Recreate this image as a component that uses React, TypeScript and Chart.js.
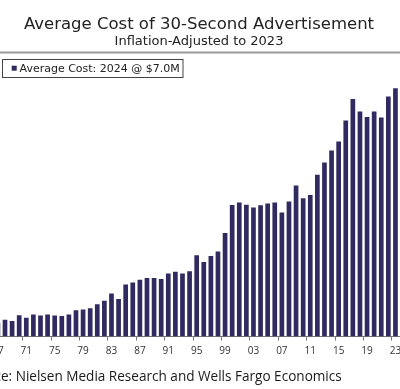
import React, { useEffect, useRef } from "react";
import { Chart, registerables } from "chart.js";

Chart.register(...registerables);

const TITLE = "Average Cost of 30-Second Advertisement";
const SUBTITLE = "Inflation-Adjusted to 2023";
const SERIES_LABEL = "Average Cost: 2024 @ $7.0M";
const SOURCE_HIDDEN = "Sourc";
const SOURCE_VISIBLE = "e: Nielsen Media Research and Wells Fargo Economics";

const seasonLabels = [
  "67", "68", "69", "70", "71", "72", "73", "74", "75", "76",
  "77", "78", "79", "80", "81", "82", "83", "84", "85", "86",
  "87", "88", "89", "90", "91", "92", "93", "94", "95", "96",
  "97", "98", "99", "00", "01", "02", "03", "04", "05", "06",
  "07", "08", "09", "10", "11", "12", "13", "14", "15", "16",
  "17", "18", "19", "20", "21", "22", "23",
];

// Inflation-adjusted average cost, $ millions
const costMillions = [
  0.39, 0.47, 0.44, 0.6, 0.53, 0.62, 0.59, 0.62, 0.59, 0.58,
  0.62, 0.74, 0.76, 0.8, 0.91, 1.01, 1.21, 1.06, 1.47, 1.52,
  1.6, 1.65, 1.65, 1.62, 1.78, 1.83, 1.78, 1.84, 2.29, 2.1,
  2.27, 2.4, 2.92, 3.71, 3.78, 3.72, 3.64, 3.7, 3.75, 3.78,
  3.5, 3.81, 4.26, 3.9, 3.99, 4.56, 4.91, 5.25, 5.5, 6.09,
  6.7, 6.35, 6.19, 6.35, 6.18, 6.77, 7.0,
];

const Y_MIN = 0;
const Y_MAX = 8;
const LABEL_EVERY = 4;

const BAR_COLOR = "#2f2a60";
const OX = 20; // canvas offset to the left of the visible frame

const overlayPlugin = {
  id: "overlay",
  afterDraw(chart: any) {
    const ctx = chart.ctx as CanvasRenderingContext2D;
    ctx.save();
    // Title & subtitle
    ctx.fillStyle = "#222";
    ctx.textAlign = "center";
    ctx.textBaseline = "alphabetic";
    ctx.font = '16.5px "DejaVu Sans"';
    ctx.fillText(TITLE, OX + 199, 29);
    ctx.font = '13px "DejaVu Sans"';
    ctx.fillText(SUBTITLE, OX + 199, 44.5);
    // separator
    ctx.fillStyle = "#9a9a9a";
    ctx.fillRect(0, 51.5, chart.width, 2);
    // legend box
    ctx.strokeStyle = "#444";
    ctx.lineWidth = 1;
    ctx.fillStyle = "#fff";
    ctx.fillRect(OX + 2, 59.5, 181, 18);
    ctx.strokeRect(OX + 2.5, 59.5, 180.5, 18);
    ctx.fillStyle = BAR_COLOR;
    ctx.fillRect(OX + 11.7, 65.7, 5, 5);
    ctx.fillStyle = "#222";
    ctx.textAlign = "left";
    ctx.font = '11px "DejaVu Sans"';
    ctx.fillText(SERIES_LABEL, OX + 19.5, 72);
    // source (cropped on the left like the reference)
    ctx.font = '100px "Open Sans"';
    const wA = ctx.measureText(SOURCE_HIDDEN).width;
    const wB = ctx.measureText(SOURCE_VISIBLE).width;
    const size = (100 * 341) / wB;
    ctx.font = `${size}px "Open Sans"`;
    ctx.fillStyle = "#1a1a1a";
    ctx.fillText(SOURCE_HIDDEN + SOURCE_VISIBLE, OX + 1 - (wA * size) / 100, 381);
    ctx.restore();
  },
};

export default function App() {
  const ref = useRef<HTMLCanvasElement>(null);
  useEffect(() => {
    const chart = new Chart(ref.current!, {
      type: "bar",
      data: {
        labels: seasonLabels,
        datasets: [
          {
            label: SERIES_LABEL,
            data: costMillions,
            backgroundColor: BAR_COLOR,
            borderWidth: 0,
            barPercentage: 0.66,
            categoryPercentage: 1,
          },
        ],
      },
      options: {
        responsive: false,
        animation: false,
        devicePixelRatio: 1,
        layout: { padding: { left: 14.35, right: 21, top: 52.9, bottom: 26.5 } },
        plugins: {
          legend: { display: false },
          title: { display: false },
          tooltip: { enabled: false },
        },
        scales: {
          x: {
            type: "category",
            offset: true,
            grid: {
              offset: true,
              drawOnChartArea: false,
              drawTicks: true,
              tickLength: 4,
              color: (c: any) => (c.index % LABEL_EVERY === 0 ? "#777" : "rgba(0,0,0,0)"),
            },
            border: { display: true, color: "#777", width: 1 },
            ticks: {
              autoSkip: false,
              maxRotation: 0,
              minRotation: 0,
              padding: 5,
              color: "#333",
              font: { family: "Open Sans", size: 10 },
              callback: (_v: any, i: number) => (i % LABEL_EVERY === 0 ? seasonLabels[i] : ""),
            },
          },
          y: {
            display: false,
            min: Y_MIN,
            max: Y_MAX,
          },
        },
      },
      plugins: [overlayPlugin],
    });
    return () => chart.destroy();
  }, []);
  return (
    <div
      style={{
        position: "fixed",
        left: 0,
        top: 0,
        width: 400,
        height: 389,
        overflow: "hidden",
        background: "#fff",
      }}
    >
      <canvas
        ref={ref}
        width={440}
        height={389}
        style={{ position: "absolute", left: -OX, top: 0, width: 440, height: 389 }}
      />
    </div>
  );
}
